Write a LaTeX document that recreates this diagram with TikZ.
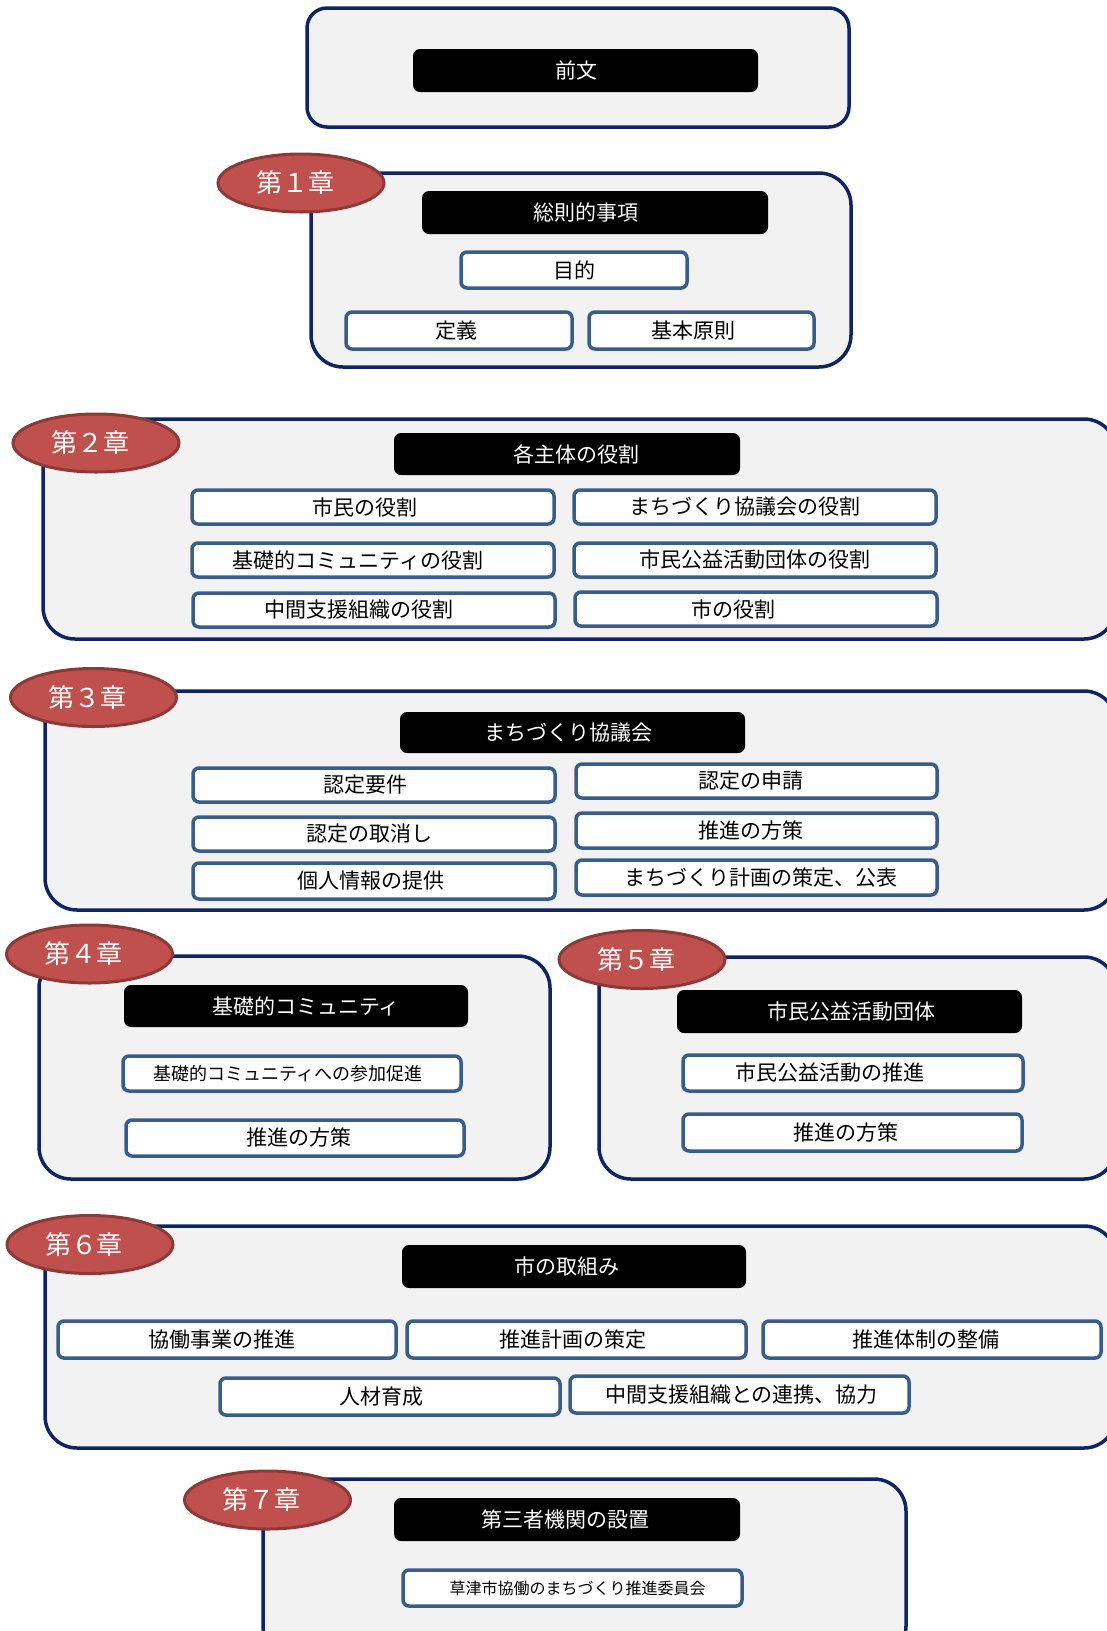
\documentclass[tikz,border=0pt]{standalone}
\usepackage{fontspec}
\setmainfont{Noto Sans CJK JP}
\usetikzlibrary{shapes.geometric}
\definecolor{navy}{HTML}{0F2462}
\definecolor{boxgray}{HTML}{F2F2F2}
\definecolor{chred}{HTML}{C0504D}
\definecolor{chredd}{HTML}{8C3A38}
\definecolor{steel}{HTML}{385D8A}
\newcommand{\tsh}[2]{\hspace*{#1}#2\hspace*{-#1}}
\tikzset{
  chapbox/.style={draw=navy, line width=3.5pt, fill=boxgray, rounded corners=32pt, inner sep=0pt},
  topbox/.style={draw=navy, line width=3.5pt, fill=boxgray, rounded corners=20pt, inner sep=0pt},
  blk/.style={fill=black, rounded corners=7pt, text=white, inner sep=0pt, font=\fontsize{21}{25}\selectfont},
  wbox/.style={draw=steel, line width=3.5pt, fill=white, rounded corners=6pt, inner sep=0pt, font=\fontsize{21}{25}\selectfont},
  chap/.style={ellipse, fill=chred, draw=chredd, line width=3pt, text=white, inner sep=0pt,
    minimum width=166pt, minimum height=58pt, font=\fontsize{26}{30}\selectfont},
}
\begin{document}
\begin{tikzpicture}[x=1pt,y=-1pt]
\useasboundingbox (0,0) rectangle (1107,1631);
% Preamble
\node[topbox, minimum width=542pt, minimum height=119pt] (p0) at (578,67.5) {};
\node[blk, minimum width=345pt, minimum height=43pt] (p0h) at (585.5,70.5) {\tsh{-9pt}{前文}};
% Chapter 1
\node[chapbox, minimum width=540pt, minimum height=194pt] (c1) at (581,270) {};
\node[chap] (e1) at (301,183) {\tsh{-6pt}{第１章}};
\node[blk, minimum width=346pt, minimum height=43pt] (c1h) at (595,212.5) {\tsh{-9pt}{総則的事項}};
\node[wbox, minimum width=226pt, minimum height=36pt] (c1a) at (574,270) {目的};
\node[wbox, minimum width=226pt, minimum height=37pt] (c1b) at (459,330.5) {\tsh{-3pt}{定義}};
\node[wbox, minimum width=225pt, minimum height=37pt] (c1c) at (701.5,330.5) {\tsh{-8pt}{基本原則}};
% Chapter 2
\node[chapbox, minimum width=1073pt, minimum height=220pt] (c2) at (579.5,529) {};
\node[chap] (e2) at (96,443) {\tsh{-6pt}{第２章}};
\node[blk, minimum width=346pt, minimum height=42pt] (c2h) at (567,454) {\tsh{9pt}{各主体の役割}};
\node[wbox, minimum width=362pt, minimum height=34pt] (c2a) at (373,507) {\tsh{-8pt}{市民の役割}};
\node[wbox, minimum width=362pt, minimum height=34pt] (c2b) at (755,507) {\tsh{-10pt}{まちづくり協議会の役割}};
\node[wbox, minimum width=362pt, minimum height=34pt] (c2c) at (373,560) {\tsh{-15pt}{基礎的コミュニティの役割}};
\node[wbox, minimum width=362pt, minimum height=34pt] (c2d) at (755,560) {市民公益活動団体の役割};
\node[wbox, minimum width=362pt, minimum height=34pt] (c2e) at (374,610) {\tsh{-15pt}{中間支援組織の役割}};
\node[wbox, minimum width=362pt, minimum height=34pt] (c2f) at (756,609) {\tsh{-23pt}{市の役割}};
% Chapter 3
\node[chapbox, minimum width=1071pt, minimum height=219pt] (c3) at (580.5,800.5) {};
\node[chap] (e3) at (93.5,697.5) {\tsh{-6pt}{第３章}};
\node[blk, minimum width=345pt, minimum height=41pt] (c3h) at (572.5,732.5) {\tsh{-4pt}{まちづくり協議会}};
\node[wbox, minimum width=362pt, minimum height=34pt] (c3a) at (374,785) {\tsh{-9pt}{認定要件}};
\node[wbox, minimum width=362pt, minimum height=34pt] (c3b) at (374,834) {\tsh{-5pt}{認定の取消し}};
\node[wbox, minimum width=362pt, minimum height=36pt] (c3c) at (374,881) {\tsh{-3pt}{個人情報の提供}};
\node[wbox, minimum width=361pt, minimum height=34pt] (c3d) at (756.5,781) {\tsh{-6pt}{認定の申請}};
\node[wbox, minimum width=361pt, minimum height=35pt] (c3e) at (756.5,830.5) {\tsh{-6pt}{推進の方策}};
\node[wbox, minimum width=361pt, minimum height=35pt] (c3f) at (756.5,877.5) {\tsh{4pt}{まちづくり計画の策定、公表}};
% Chapter 4
\node[chapbox, minimum width=511pt, minimum height=223pt] (c4) at (294.5,1067.5) {};
\node[chap] (e4) at (89.5,954) {\tsh{-6pt}{第４章}};
\node[blk, minimum width=344pt, minimum height=42pt] (c4h) at (296,1006) {\tsh{10pt}{基礎的コミュニティ}};
\node[wbox, minimum width=338pt, minimum height=35pt, font=\fontsize{18}{22}\selectfont] (c4a) at (292,1073.5) {\tsh{-4pt}{基礎的コミュニティへの参加促進}};
\node[wbox, minimum width=338pt, minimum height=36pt] (c4b) at (295,1138) {\tsh{4pt}{推進の方策}};
% Chapter 5
\node[chapbox, minimum width=517pt, minimum height=222pt] (c5) at (857.5,1068) {};
\node[chap] (e5) at (642,959.5) {\tsh{-6pt}{第５章}};
\node[blk, minimum width=345pt, minimum height=43pt] (c5h) at (849.5,1011.5) {\tsh{2pt}{市民公益活動団体}};
\node[wbox, minimum width=340pt, minimum height=36pt] (c5a) at (853,1073) {\tsh{-23pt}{市民公益活動の推進}};
\node[wbox, minimum width=339pt, minimum height=37pt] (c5b) at (852.5,1132.5) {\tsh{-7pt}{推進の方策}};
% Chapter 6
\node[chapbox, minimum width=1071pt, minimum height=222pt] (c6) at (580.5,1337) {};
\node[chap] (e6) at (90,1244.5) {\tsh{-6pt}{第６章}};
\node[blk, minimum width=344pt, minimum height=43pt] (c6h) at (574,1266.5) {\tsh{-7pt}{市の取組み}};
\node[wbox, minimum width=338pt, minimum height=37pt] (c6a) at (227,1339.5) {\tsh{-5pt}{協働事業の推進}};
\node[wbox, minimum width=339pt, minimum height=37pt] (c6b) at (576.5,1339.5) {\tsh{-4pt}{推進計画の策定}};
\node[wbox, minimum width=338pt, minimum height=37pt] (c6c) at (932,1339.5) {\tsh{-6pt}{推進体制の整備}};
\node[wbox, minimum width=340pt, minimum height=37pt] (c6d) at (390,1396.5) {\tsh{-9pt}{人材育成}};
\node[wbox, minimum width=339pt, minimum height=37pt] (c6e) at (739.5,1394.5) {\tsh{2pt}{中間支援組織との連携、協力}};
% Chapter 7
\node[chapbox, minimum width=643pt, minimum height=179pt] (c7) at (584.5,1568.5) {};
\node[chap] (e7) at (267.5,1500) {\tsh{-6pt}{第７章}};
\node[blk, minimum width=346pt, minimum height=43pt] (c7h) at (567,1519.5) {\tsh{-2pt}{第三者機関の設置}};
\node[wbox, minimum width=339pt, minimum height=36pt, font=\fontsize{16}{20}\selectfont] (c7a) at (572.5,1588) {\tsh{5pt}{草津市協働のまちづくり推進委員会}};
\end{tikzpicture}
\end{document}
